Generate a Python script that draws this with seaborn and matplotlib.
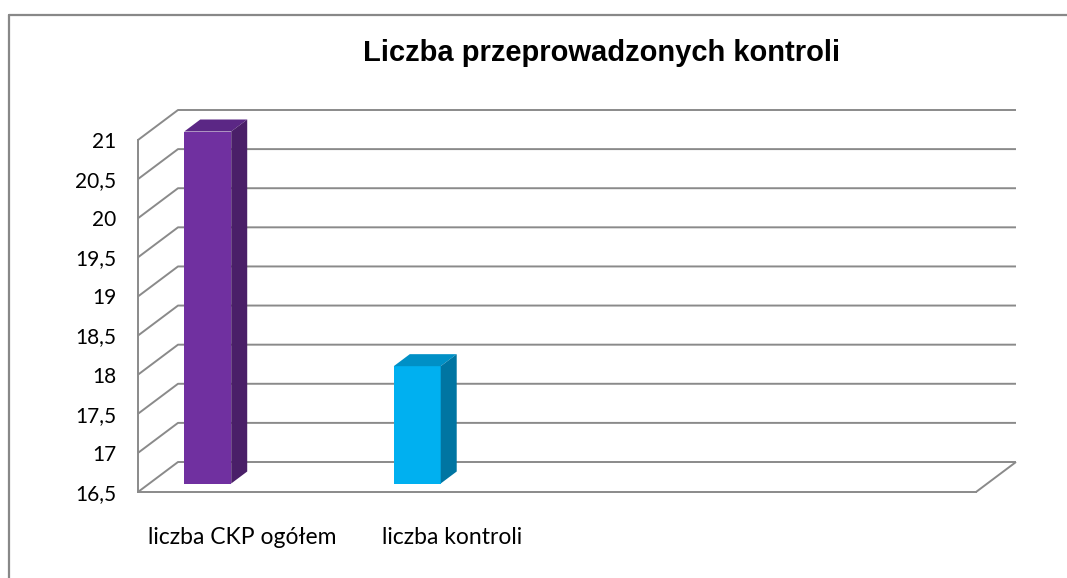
import numpy as np
import pandas as pd
import matplotlib
matplotlib.use("Agg")
import matplotlib.pyplot as plt
import matplotlib.transforms as mtransforms
from matplotlib.patches import Polygon, Rectangle
from matplotlib.lines import Line2D
import seaborn as sns

# ---- data ----
categories = ["liczba CKP ogółem", "liczba kontroli"]
values = [21, 18]
n_slots = 4
y_ticks = [16.5, 17, 17.5, 18, 18.5, 19, 19.5, 20, 20.5, 21]
y_labels = ["16,5", "17", "17,5", "18", "18,5", "19", "19,5", "20", "20,5", "21"]
title = "Liczba przeprowadzonych kontroli"

front_colors = ["#7030A0", "#00B0F0"]
top_colors = ["#5B2785", "#0090C6"]
side_colors = ["#4A1F68", "#0075A2"]

sns.set_style("white")
plt.rcParams["font.family"] = ["Lato", "DejaVu Sans"]

W, H = 1067, 578
fig = plt.figure(figsize=(W / 100, H / 100), dpi=100)
# front plane of the chart
left_px, right_px, top_px, bot_px = 138, 976, 140, 492
ax = fig.add_axes([left_px / W, 1 - bot_px / H, (right_px - left_px) / W, (bot_px - top_px) / H])

df = pd.DataFrame({"kat": categories, "val": values})
sns.barplot(data=df, x="kat", y="val", hue="kat", palette=front_colors,
            width=0.224, legend=False, ax=ax, saturation=1, zorder=3)

ax.set_xlim(-0.5, n_slots - 0.5)
ax.set_ylim(y_ticks[0], y_ticks[-1])

# pixel -> data scale
px_x = (right_px - left_px) / n_slots
px_y = (bot_px - top_px) / (y_ticks[-1] - y_ticks[0])

# back plane offset (oblique projection)
bdx, bdy = 40 / px_x, 30 / px_y
grid_kw = dict(color="#8A8A8A", lw=1.4, clip_on=False, zorder=1, solid_capstyle="butt")
x0, x1 = -0.5, n_slots - 0.5
for t in y_ticks:
    ax.plot([x0, x0 + bdx, x1 + bdx], [t, t + bdy, t + bdy], **grid_kw)
# floor right edge
ax.plot([x1, x1 + bdx], [y_ticks[0], y_ticks[0] + bdy], **grid_kw)

# shift the bars into the depth of the box, and add top / side faces
shift = mtransforms.ScaledTranslation(-35 / 100, 8.5 / 100, fig.dpi_scale_trans)
clip_rect = Rectangle((0, 0), 1, 1, transform=ax.transAxes + shift, fill=False, visible=False)
ax.add_patch(clip_rect)
ddx, ddy = 16 / px_x, 12 / px_y
bars = [p for p in ax.patches if p is not clip_rect]
for i, p in enumerate(bars):
    p.set_transform(ax.transData + shift)
    p.set_clip_path(clip_rect)
    p.set_edgecolor("none")
    xl = p.get_x()
    xr = xl + p.get_width()
    top = p.get_height()
    bot = y_ticks[0]
    topface = Polygon([(xl, top), (xr, top), (xr + ddx, top + ddy), (xl + ddx, top + ddy)],
                      closed=True, facecolor=top_colors[i], edgecolor="none",
                      transform=ax.transData + shift, clip_on=False, zorder=3)
    side = Polygon([(xr, bot), (xr, top), (xr + ddx, top + ddy), (xr + ddx, bot + ddy)],
                   closed=True, facecolor=side_colors[i], edgecolor="none",
                   transform=ax.transData + shift, clip_on=False, zorder=3)
    ax.add_patch(topface)
    ax.add_patch(side)

# axes styling
for s in ["top", "right"]:
    ax.spines[s].set_visible(False)
for s in ["left", "bottom"]:
    ax.spines[s].set_color("#8A8A8A")
    ax.spines[s].set_linewidth(1.4)
    ax.spines[s].set_zorder(2)

ax.set_yticks(y_ticks)
ax.set_yticklabels(y_labels, fontsize=15, color="black")
ax.tick_params(axis="y", direction="out", length=4.5, width=1.2, color="#8A8A8A", pad=11)

ax.set_xticks(range(len(categories)))
ax.set_xticklabels(categories, fontsize=16.5, color="black")
ax.tick_params(axis="x", which="major", length=0, pad=25.5)
ax.set_xticks(np.arange(n_slots + 1) - 0.5, minor=True)
ax.tick_params(axis="x", which="minor", direction="out", length=6, width=1.2, color="#8A8A8A")
ax.set_xlabel("")
ax.set_ylabel("")
ax.grid(False)
ax.set_facecolor("none")

# title
fig.text(602 / W, 1 - 53 / H, title, ha="center", va="center", color="black",
         fontsize=21, fontweight="bold", family=["Liberation Sans", "DejaVu Sans"])

# chart border (left and top visible)
fig.add_artist(Line2D([9 / W, 9 / W], [0, 1 - 15 / H], transform=fig.transFigure,
                      color="#888888", lw=1.6))
fig.add_artist(Line2D([9 / W, 1], [1 - 15 / H, 1 - 15 / H], transform=fig.transFigure,
                      color="#888888", lw=1.6))

fig.savefig("out.png", dpi=100)
